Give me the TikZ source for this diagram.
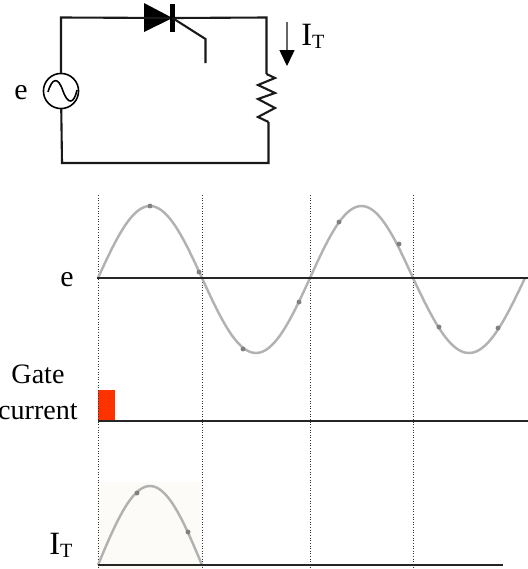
\documentclass[tikz,border=0pt]{standalone}
\usepackage{fontspec}
\setmainfont{Liberation Serif}
\usetikzlibrary{arrows.meta, positioning}

\definecolor{pulsered}{RGB}{255,51,0}
\definecolor{paleback}{RGB}{252,251,248}

\newcommand{\currentlabel}{{\fontsize{18.5}{20}\selectfont I}\raisebox{-1.8pt}{\fontsize{11.5}{13}\selectfont T}}

\begin{document}
\begin{tikzpicture}[
    x=0.02cm,
    y=-0.02cm,
    every node/.style={inner sep=0pt, outer sep=0pt},
    wire/.style={line width=1.2pt, black!90},
    axisline/.style={line width=1.2pt, black!85},
    guide/.style={line width=0.5pt, black!80, densely dotted},
    wave/.style={line width=1.4pt, black!30},
    wavedot/.style={circle, fill=black!50, minimum size=2.8pt},
    labeltext/.style={font=\fontsize{16}{20.5}\selectfont, align=center}
]
\useasboundingbox (0,0) rectangle (528,569);

% Circuit corners
\coordinate (tl) at (61,17.5);
\coordinate (tr) at (266.5,17.5);
\coordinate (bl) at (62,163);
\coordinate (br) at (268.5,163);
\coordinate (rtop) at (266.5,74);
\coordinate (rbot) at (268.5,122);
\coordinate (gknee) at (205.5,39);
\coordinate (gend) at (205.5,63);
\coordinate (ittop) at (287,22);
\coordinate (itbot) at (287,66);

% Source and thyristor
\node[circle, draw, line width=0.9pt, minimum size=20pt] (src) at (61,91) {};
\node[fill, minimum width=2.8pt, minimum height=16pt] (bar) at (172.5,18) {};
\fill (144,3) -- (144,32) -- (bar.center) -- cycle;
\draw[line width=0.9pt] (48,92) .. controls (52,78) and (58,76) .. (63,91) .. controls (68,105) and (74,104) .. (77,90);

% Wires
\draw[wire] (src) -- (tl) -- (bar);
\draw[wire] (bar) -- (tr) -- (rtop);
\draw[wire] (src) -- (bl) -- (br) -- (rbot);
\draw[wire] (rtop) -- (275,78) -- (258,85) -- (275,93) -- (258,99) -- (275,108) -- (258,117) -- (rbot);
\draw[wire] (bar.center) -- (gknee) -- (gend);
\draw[line width=0.6pt, black!60, -{Triangle[length=9pt, width=8.5pt, black]}] (ittop) -- (itbot);

% Labels
\node[labeltext, font=\fontsize{17}{20}\selectfont] (esrc) at (21,93) {e};
\node (itsrc) at (313,36) {\currentlabel};
\node[labeltext, font=\fontsize{17}{20}\selectfont] (ewave) at (67,280) {e};
\node[labeltext] (gate) at (38,392) {Gate\\current};
\node (itwave) at (61,545) {\currentlabel};

% Background and gate pulse
\fill[paleback] (98,482) rectangle (202,569);
\fill[pulsered] (98,390) rectangle (115,420);

% Dotted guides
\draw[guide] (98,195) -- (98,569);
\draw[guide] (202,195) -- (202,569);
\draw[guide] (310,195) -- (310,569);
\draw[guide] (413,195) -- (413,569);

% Waves
\draw[wave] plot[domain=98:202, samples=40] (\x,{278-72*sin((\x-98)/104*180)});
\draw[wave] plot[domain=202:310, samples=40] (\x,{278+75*sin((\x-202)/108*180)});
\draw[wave] plot[domain=310:413, samples=40] (\x,{278-72*sin((\x-310)/103*180)});
\draw[wave] plot[domain=413:525, samples=40] (\x,{278+75*sin((\x-413)/112*180)});
\draw[wave] plot[domain=98:202, samples=40] (\x,{565-79*sin((\x-98)/104*180)});

% Dots on the waves
\foreach \px/\py in {150/206, 199/272, 243/349, 299/302, 339/222, 399/244, 439/327, 498/328, 137/493, 188/532}
    \node[wavedot] at (\px,\py) {};

% Time axes
\coordinate (eaxisl) at (97,278);
\coordinate (eaxisr) at (528,278);
\coordinate (gaxisl) at (98,421);
\coordinate (gaxisr) at (528,421);
\coordinate (iaxisl) at (98,565);
\coordinate (iaxisr) at (503,565);
\draw[axisline] (eaxisl) -- (eaxisr);
\draw[axisline] (gaxisl) -- (gaxisr);
\draw[axisline] (iaxisl) -- (iaxisr);

\end{tikzpicture}
\end{document}
